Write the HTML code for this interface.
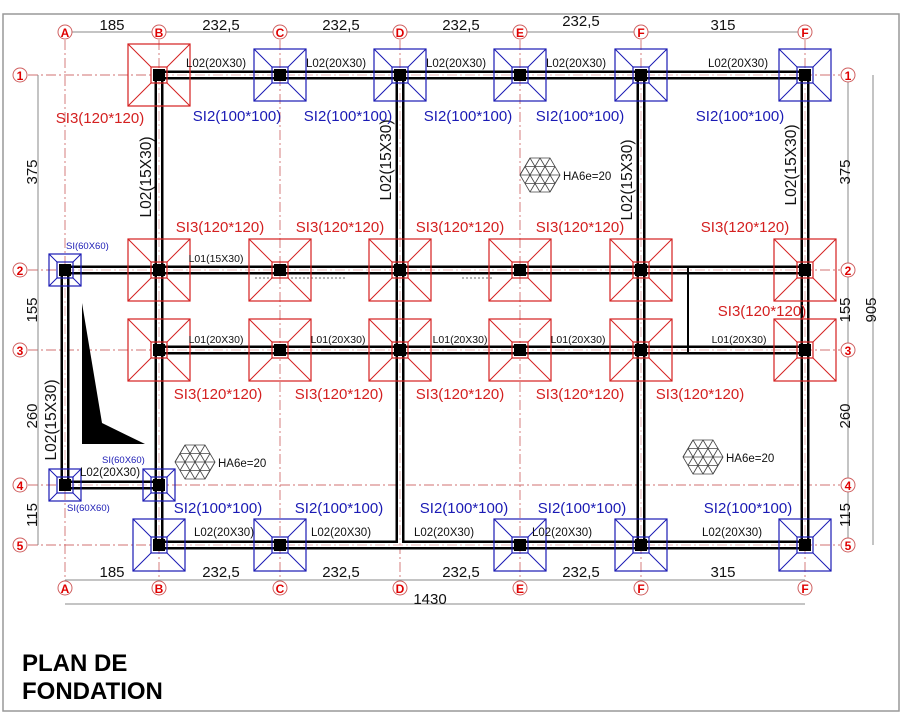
<!DOCTYPE html>
<html><head><meta charset="utf-8"><style>
html,body{margin:0;padding:0;background:#fff;width:904px;height:724px;overflow:hidden}
svg{display:block}
text{font-family:"Liberation Sans",sans-serif}
.si{font-size:15px}
.r{fill:#d42020}.b{fill:#1a1ab4}
.bl{font-size:11.5px;fill:#111}
.dm{font-size:15px;fill:#111}
.bub{font-size:12px;font-weight:bold;fill:#e00000;text-anchor:middle}
</style></head><body>
<svg width="904" height="724" viewBox="0 0 904 724" xmlns="http://www.w3.org/2000/svg">
<defs>
<g id="fr"><rect x="-31" y="-31" width="62" height="62" fill="none" stroke="#d42020" stroke-width="1.2"/><rect x="-8" y="-8" width="16" height="16" fill="none" stroke="#d42020" stroke-width="1.2"/><path d="M-31,-31L-8,-8M31,-31L8,-8M-31,31L-8,8M31,31L8,8" stroke="#d42020" stroke-width="1"/></g>
<g id="fb"><rect x="-26" y="-26" width="52" height="52" fill="none" stroke="#1a1ab4" stroke-width="1.2"/><rect x="-8" y="-8" width="16" height="16" fill="none" stroke="#1a1ab4" stroke-width="1.2"/><path d="M-26,-26L-8,-8M26,-26L8,-8M-26,26L-8,8M26,26L8,8" stroke="#1a1ab4" stroke-width="1"/></g>
<g id="fs"><rect x="-16" y="-16" width="32" height="32" fill="none" stroke="#1a1ab4" stroke-width="1.2"/><rect x="-8" y="-8" width="16" height="16" fill="none" stroke="#1a1ab4" stroke-width="1.2"/><path d="M-16,-16L-8,-8M16,-16L8,-8M-16,16L-8,8M16,16L8,8" stroke="#1a1ab4" stroke-width="1"/></g>
<rect id="c" x="-6" y="-6" width="12" height="12" fill="#000"/>
<g id="h" stroke="#444" stroke-width="0.8" fill="none"><path d="M-10,-17L10,-17L20,0L10,17L-10,17L-20,0Z"/><path d="M-20,0H20M-15,-8.5H15M-15,8.5H15M-10,-17L10,17M10,-17L-10,17M0,-17L15,8.5M0,-17L-15,8.5M0,17L15,-8.5M0,17L-15,-8.5M-10,-17L-20,0M10,17L20,0"/></g>
</defs>
<rect x="3" y="14" width="896" height="697" fill="none" stroke="#999" stroke-width="1.5"/>
<g stroke="#d07070" stroke-width="0.9" stroke-dasharray="10,3,2,3" fill="none">
<path d="M65,40V582M159,40V582M280,40V582M400,40V582M520,40V582M641,40V582M805,40V582"/>
<path d="M28,75H840M28,270H840M28,350H840M28,485H840M28,545H840"/>
</g>
<g stroke="#888" stroke-width="1" fill="none">
<path d="M72,32H798M65,580H805M65,604H805M38,75V545M848,75V545M873,75V545"/>
</g>
<g fill="none" stroke="#000" stroke-width="9">
<path d="M159,75H805M65,270H805M159,350H805M159,545H805M65,485H159M65,270V485M159,75V545M400,75V545M641,75V545M805,75V545"/>
</g>
<g fill="none" stroke="#fff" stroke-width="4">
<path d="M159,75H805M65,270H805M159,350H805M159,545H805M65,485H159M65,270V485M159,75V545M400,75V545M641,75V545M805,75V545"/>
</g>
<g fill="none" stroke="#e0a0a0" stroke-width="0.8" stroke-dasharray="10,3,2,3">
<path d="M159,75H805M65,270H805M159,350H805M159,545H805M65,485H159M65,270V485M159,75V545M400,75V545M641,75V545M805,75V545"/>
</g>
<path d="M688,266V354" stroke="#000" stroke-width="2"/>
<path d="M255,278h90M462,278h30" stroke="#666" stroke-width="1" stroke-dasharray="2,2"/>
<use href="#fr" x="159" y="75"/>
<use href="#fb" x="280" y="75"/><use href="#fb" x="400" y="75"/><use href="#fb" x="520" y="75"/><use href="#fb" x="641" y="75"/><use href="#fb" x="805" y="75"/>
<use href="#fr" x="159" y="270"/><use href="#fr" x="280" y="270"/><use href="#fr" x="400" y="270"/><use href="#fr" x="520" y="270"/><use href="#fr" x="641" y="270"/><use href="#fr" x="805" y="270"/>
<use href="#fr" x="159" y="350"/><use href="#fr" x="280" y="350"/><use href="#fr" x="400" y="350"/><use href="#fr" x="520" y="350"/><use href="#fr" x="641" y="350"/><use href="#fr" x="805" y="350"/>
<use href="#fb" x="159" y="545"/><use href="#fb" x="280" y="545"/><use href="#fb" x="520" y="545"/><use href="#fb" x="641" y="545"/><use href="#fb" x="805" y="545"/>
<use href="#fs" x="65" y="270"/><use href="#fs" x="65" y="485"/><use href="#fs" x="159" y="485"/>
<g>
<use href="#c" x="159" y="75"/><use href="#c" x="280" y="75"/><use href="#c" x="400" y="75"/><use href="#c" x="520" y="75"/><use href="#c" x="641" y="75"/><use href="#c" x="805" y="75"/>
<use href="#c" x="65" y="270"/><use href="#c" x="159" y="270"/><use href="#c" x="280" y="270"/><use href="#c" x="400" y="270"/><use href="#c" x="520" y="270"/><use href="#c" x="641" y="270"/><use href="#c" x="805" y="270"/>
<use href="#c" x="159" y="350"/><use href="#c" x="280" y="350"/><use href="#c" x="400" y="350"/><use href="#c" x="520" y="350"/><use href="#c" x="641" y="350"/><use href="#c" x="805" y="350"/>
<use href="#c" x="65" y="485"/><use href="#c" x="159" y="485"/>
<use href="#c" x="159" y="545"/><use href="#c" x="280" y="545"/><use href="#c" x="520" y="545"/><use href="#c" x="641" y="545"/><use href="#c" x="805" y="545"/>
</g>
<polygon points="82,303 102,423 145,444 82,444" fill="#000"/>
<use href="#h" x="195" y="462"/><use href="#h" x="540" y="175"/><use href="#h" x="703" y="457"/>
<text class="bl" x="218" y="467">HA6e=20</text>
<text class="bl" x="563" y="180">HA6e=20</text>
<text class="bl" x="726" y="462">HA6e=20</text>
<g fill="#fff" stroke="#d06060" stroke-width="1">
<circle cx="65" cy="32" r="7"/><circle cx="159" cy="32" r="7"/><circle cx="280" cy="32" r="7"/><circle cx="400" cy="32" r="7"/><circle cx="520" cy="32" r="7"/><circle cx="641" cy="32" r="7"/><circle cx="805" cy="32" r="7"/>
<circle cx="65" cy="588" r="7"/><circle cx="159" cy="588" r="7"/><circle cx="280" cy="588" r="7"/><circle cx="400" cy="588" r="7"/><circle cx="520" cy="588" r="7"/><circle cx="641" cy="588" r="7"/><circle cx="805" cy="588" r="7"/>
<circle cx="20" cy="75" r="7"/><circle cx="20" cy="270" r="7"/><circle cx="20" cy="350" r="7"/><circle cx="20" cy="485" r="7"/><circle cx="20" cy="545" r="7"/>
<circle cx="848" cy="75" r="7"/><circle cx="848" cy="270" r="7"/><circle cx="848" cy="350" r="7"/><circle cx="848" cy="485" r="7"/><circle cx="848" cy="545" r="7"/>
</g>
<g class="bub">
<text x="65" y="37" class="bub">A</text><text x="159" y="37" class="bub">B</text><text x="280" y="37" class="bub">C</text><text x="400" y="37" class="bub">D</text><text x="520" y="37" class="bub">E</text><text x="641" y="37" class="bub">F</text><text x="805" y="37" class="bub">F</text>
<text x="65" y="593" class="bub">A</text><text x="159" y="593" class="bub">B</text><text x="280" y="593" class="bub">C</text><text x="400" y="593" class="bub">D</text><text x="520" y="593" class="bub">E</text><text x="641" y="593" class="bub">F</text><text x="805" y="593" class="bub">F</text>
<text x="20" y="80" class="bub">1</text><text x="20" y="275" class="bub">2</text><text x="20" y="355" class="bub">3</text><text x="20" y="490" class="bub">4</text><text x="20" y="550" class="bub">5</text>
<text x="848" y="80" class="bub">1</text><text x="848" y="275" class="bub">2</text><text x="848" y="355" class="bub">3</text><text x="848" y="490" class="bub">4</text><text x="848" y="550" class="bub">5</text>
</g>
<g class="dm" text-anchor="middle">
<text x="112" y="30">185</text><text x="221" y="30">232,5</text><text x="341" y="30">232,5</text><text x="461" y="30">232,5</text><text x="581" y="26">232,5</text><text x="723" y="30">315</text>
<text x="112" y="577">185</text><text x="221" y="577">232,5</text><text x="341" y="577">232,5</text><text x="461" y="577">232,5</text><text x="581" y="577">232,5</text><text x="723" y="577">315</text>
<text x="430" y="604">1430</text>
<text transform="translate(37,172) rotate(-90)">375</text>
<text transform="translate(37,310) rotate(-90)">155</text>
<text transform="translate(37,416) rotate(-90)">260</text>
<text transform="translate(37,515) rotate(-90)">115</text>
<text transform="translate(850,172) rotate(-90)">375</text>
<text transform="translate(850,310) rotate(-90)">155</text>
<text transform="translate(850,416) rotate(-90)">260</text>
<text transform="translate(850,515) rotate(-90)">115</text>
<text transform="translate(876,310) rotate(-90)">905</text>
</g>
<g class="bl" text-anchor="middle">
<text x="216" y="67">L02(20X30)</text><text x="336" y="67">L02(20X30)</text><text x="456" y="67">L02(20X30)</text><text x="576" y="67">L02(20X30)</text><text x="738" y="67">L02(20X30)</text>
<text x="216" y="262" font-size="10.5">L01(15X30)</text>
<text x="216" y="343" font-size="10.5">L01(20X30)</text><text x="338" y="343" font-size="10.5">L01(20X30)</text><text x="460" y="343" font-size="10.5">L01(20X30)</text><text x="578" y="343" font-size="10.5">L01(20X30)</text><text x="739" y="343" font-size="10.5">L01(20X30)</text>
<text x="110" y="476">L02(20X30)</text>
<text x="224" y="536">L02(20X30)</text><text x="341" y="536">L02(20X30)</text><text x="444" y="536">L02(20X30)</text><text x="562" y="536">L02(20X30)</text><text x="732" y="536">L02(20X30)</text>
</g>
<g class="dm" text-anchor="middle" style="font-size:15.5px">
<text transform="translate(151,177) rotate(-90)">L02(15X30)</text>
<text transform="translate(391,160) rotate(-90)">L02(15X30)</text>
<text transform="translate(632,180) rotate(-90)">L02(15X30)</text>
<text transform="translate(796,165) rotate(-90)">L02(15X30)</text>
<text transform="translate(56,420) rotate(-90)">L02(15X30)</text>
</g>
<g class="si" text-anchor="middle">
<text class="si r" x="100" y="123">SI3(120*120)</text>
<text class="si b" x="237" y="121">SI2(100*100)</text><text class="si b" x="348" y="121">SI2(100*100)</text><text class="si b" x="468" y="121">SI2(100*100)</text><text class="si b" x="580" y="121">SI2(100*100)</text><text class="si b" x="740" y="121">SI2(100*100)</text>
<text class="si r" x="220" y="232">SI3(120*120)</text><text class="si r" x="340" y="232">SI3(120*120)</text><text class="si r" x="460" y="232">SI3(120*120)</text><text class="si r" x="580" y="232">SI3(120*120)</text><text class="si r" x="745" y="232">SI3(120*120)</text>
<text class="si r" x="762" y="316">SI3(120*120)</text>
<text class="si r" x="218" y="399">SI3(120*120)</text><text class="si r" x="339" y="399">SI3(120*120)</text><text class="si r" x="460" y="399">SI3(120*120)</text><text class="si r" x="580" y="399">SI3(120*120)</text><text class="si r" x="700" y="399">SI3(120*120)</text>
<text class="si b" x="218" y="513">SI2(100*100)</text><text class="si b" x="339" y="513">SI2(100*100)</text><text class="si b" x="464" y="513">SI2(100*100)</text><text class="si b" x="582" y="513">SI2(100*100)</text><text class="si b" x="748" y="513">SI2(100*100)</text>
</g>
<g class="b">
<text class="b" x="66" y="249" style="font-size:9.5px">SI(60X60)</text>
<text class="b" x="102" y="463" style="font-size:9.5px">SI(60X60)</text>
<text class="b" x="67" y="511" style="font-size:9.5px">SI(60X60)</text>
</g>
<text x="22" y="671" style="font-size:24px;font-weight:bold" fill="#000">PLAN DE</text>
<text x="22" y="699" style="font-size:24px;font-weight:bold" fill="#000">FONDATION</text>
</svg>
</body></html>
